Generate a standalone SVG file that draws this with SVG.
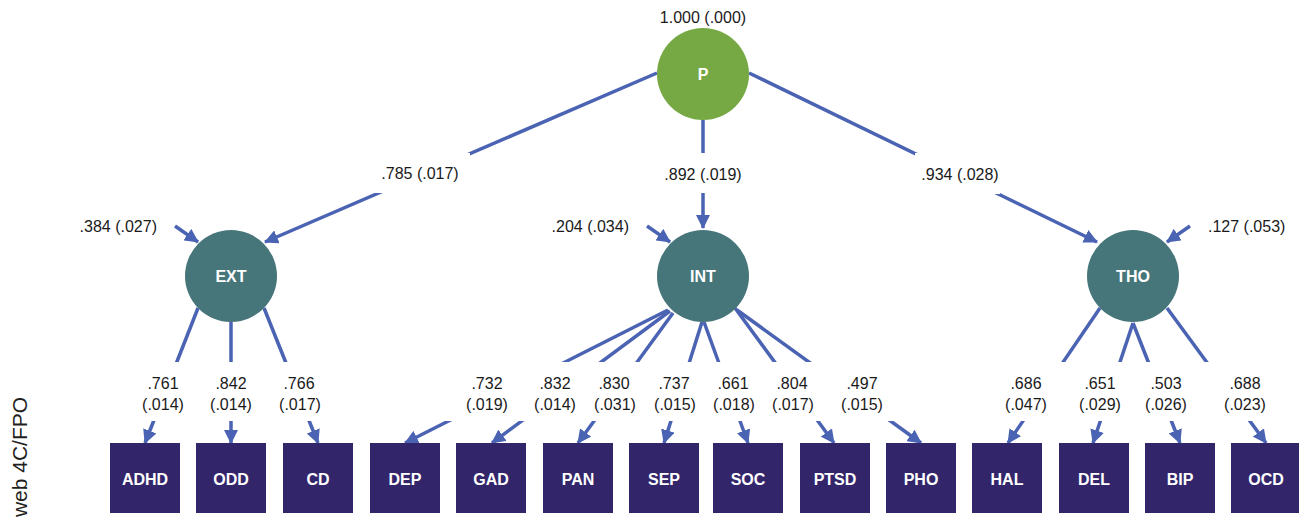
<svg xmlns="http://www.w3.org/2000/svg" width="1299" height="523" viewBox="0 0 1299 523">
<defs>
<marker id="ah" markerUnits="userSpaceOnUse" viewBox="0 0 14 14" markerWidth="14" markerHeight="14" refX="13" refY="7" orient="auto">
<path d="M0,0 L14,7 L0,14 z" fill="#4b63b3"/>
</marker>
<style>
.c{stroke:#4b63b3;stroke-width:3.5;fill:none;marker-end:url(#ah)}
.lat{fill:#46767a}
.gen{fill:#76a944}
.box{fill:#33256a}
.nl{font-family:"Liberation Sans",Arial,sans-serif;font-weight:bold;font-size:16px;fill:#fff;text-anchor:middle}
.t{font-family:"Liberation Sans",Arial,sans-serif;font-size:16px;fill:#1a1a1a;text-anchor:middle}
.bg{fill:#fff}
</style>
</defs>
<rect width="1299" height="523" fill="#fff"/>
<g id="connectors">
<line class="c" x1="657" y1="73" x2="265" y2="242"/>
<line class="c" x1="703" y1="120" x2="703" y2="228"/>
<line class="c" x1="749" y1="73" x2="1097" y2="242"/>
<line class="c" x1="175" y1="226" x2="198" y2="242"/>
<line class="c" x1="647" y1="226" x2="670" y2="242"/>
<line class="c" x1="1190" y1="226" x2="1167" y2="242"/>
<line class="c" x1="198" y1="308" x2="145" y2="443"/>
<line class="c" x1="231" y1="322" x2="231" y2="443"/>
<line class="c" x1="264" y1="308" x2="318" y2="443"/>
<line class="c" x1="668" y1="310" x2="405" y2="443"/>
<line class="c" x1="670" y1="311" x2="492" y2="443"/>
<line class="c" x1="673" y1="313" x2="578" y2="443"/>
<line class="c" x1="702" y1="322" x2="664" y2="443"/>
<line class="c" x1="704" y1="322" x2="748" y2="443"/>
<line class="c" x1="735" y1="308" x2="834" y2="443"/>
<line class="c" x1="737" y1="310" x2="921" y2="443"/>
<line class="c" x1="1100" y1="308" x2="1008" y2="443"/>
<line class="c" x1="1133" y1="323" x2="1093" y2="443"/>
<line class="c" x1="1133" y1="323" x2="1180" y2="443"/>
<line class="c" x1="1167" y1="308" x2="1266" y2="443"/>
<!-- label backgrounds -->
<rect class="bg" x="375" y="153" width="95" height="40"/>
<rect class="bg" x="660" y="153" width="86" height="40"/>
<rect class="bg" x="915" y="153" width="85" height="41"/>
<rect class="bg" x="100" y="362" width="1199" height="59"/>
<!-- labels -->
<text class="t" x="420" y="179">.785 (.017)</text>
<text class="t" x="703" y="180">.892 (.019)</text>
<text class="t" x="960" y="180">.934 (.028)</text>
<text class="t" x="157" y="232" style="text-anchor:end">.384 (.027)</text>
<text class="t" x="629" y="232" style="text-anchor:end">.204 (.034)</text>
<text class="t" x="1208" y="232" style="text-anchor:start">.127 (.053)</text>
<text class="t" x="163" y="389">.761</text><text class="t" x="163" y="410">(.014)</text>
<text class="t" x="231" y="389">.842</text><text class="t" x="231" y="410">(.014)</text>
<text class="t" x="299" y="389">.766</text><text class="t" x="300" y="410">(.017)</text>
<text class="t" x="487" y="389">.732</text><text class="t" x="487" y="410">(.019)</text>
<text class="t" x="555" y="389">.832</text><text class="t" x="555" y="410">(.014)</text>
<text class="t" x="614" y="389">.830</text><text class="t" x="615" y="410">(.031)</text>
<text class="t" x="674" y="389">.737</text><text class="t" x="675" y="410">(.015)</text>
<text class="t" x="733" y="389">.661</text><text class="t" x="734" y="410">(.018)</text>
<text class="t" x="792" y="389">.804</text><text class="t" x="793" y="410">(.017)</text>
<text class="t" x="862" y="389">.497</text><text class="t" x="862" y="410">(.015)</text>
<text class="t" x="1026" y="389">.686</text><text class="t" x="1026" y="410">(.047)</text>
<text class="t" x="1100" y="389">.651</text><text class="t" x="1100" y="410">(.029)</text>
<text class="t" x="1166" y="389">.503</text><text class="t" x="1166" y="410">(.026)</text>
<text class="t" x="1245" y="389">.688</text><text class="t" x="1245" y="410">(.023)</text>
</g>
<g id="P">
<circle class="gen" cx="703" cy="74" r="46"/>
<text class="nl" x="703" y="80">P</text>
<text class="t" x="703" y="23">1.000 (.000)</text>
</g>
<g id="EXT"><circle class="lat" cx="231" cy="276" r="46"/><text class="nl" x="231" y="282">EXT</text></g>
<g id="INT"><circle class="lat" cx="703" cy="276" r="46"/><text class="nl" x="703" y="282">INT</text></g>
<g id="THO"><circle class="lat" cx="1133" cy="276" r="46"/><text class="nl" x="1133" y="282">THO</text></g>
<g id="ADHD"><rect class="box" x="110" y="443" width="70" height="70"/><text class="nl" x="145" y="485">ADHD</text></g>
<g id="ODD"><rect class="box" x="196" y="443" width="70" height="70"/><text class="nl" x="231" y="485">ODD</text></g>
<g id="CD"><rect class="box" x="283" y="443" width="70" height="70"/><text class="nl" x="318" y="485">CD</text></g>
<g id="DEP"><rect class="box" x="370" y="443" width="70" height="70"/><text class="nl" x="405" y="485">DEP</text></g>
<g id="GAD"><rect class="box" x="456" y="443" width="70" height="70"/><text class="nl" x="491" y="485">GAD</text></g>
<g id="PAN"><rect class="box" x="543" y="443" width="70" height="70"/><text class="nl" x="578" y="485">PAN</text></g>
<g id="SEP"><rect class="box" x="629" y="443" width="70" height="70"/><text class="nl" x="664" y="485">SEP</text></g>
<g id="SOC"><rect class="box" x="713" y="443" width="70" height="70"/><text class="nl" x="748" y="485">SOC</text></g>
<g id="PTSD"><rect class="box" x="800" y="443" width="70" height="70"/><text class="nl" x="835" y="485">PTSD</text></g>
<g id="PHO"><rect class="box" x="886" y="443" width="70" height="70"/><text class="nl" x="921" y="485">PHO</text></g>
<g id="HAL"><rect class="box" x="972" y="443" width="70" height="70"/><text class="nl" x="1007" y="485">HAL</text></g>
<g id="DEL"><rect class="box" x="1059" y="443" width="70" height="70"/><text class="nl" x="1094" y="485">DEL</text></g>
<g id="BIP"><rect class="box" x="1145" y="443" width="70" height="70"/><text class="nl" x="1180" y="485">BIP</text></g>
<g id="OCD"><rect class="box" x="1231" y="443" width="70" height="70"/><text class="nl" x="1266" y="485">OCD</text></g>
<text x="0" y="0" transform="translate(27,457) rotate(-90)" style="font-family:'Liberation Sans',Arial,sans-serif;font-size:21px;fill:#231f20;text-anchor:middle">web 4C/FPO</text>
</svg>
